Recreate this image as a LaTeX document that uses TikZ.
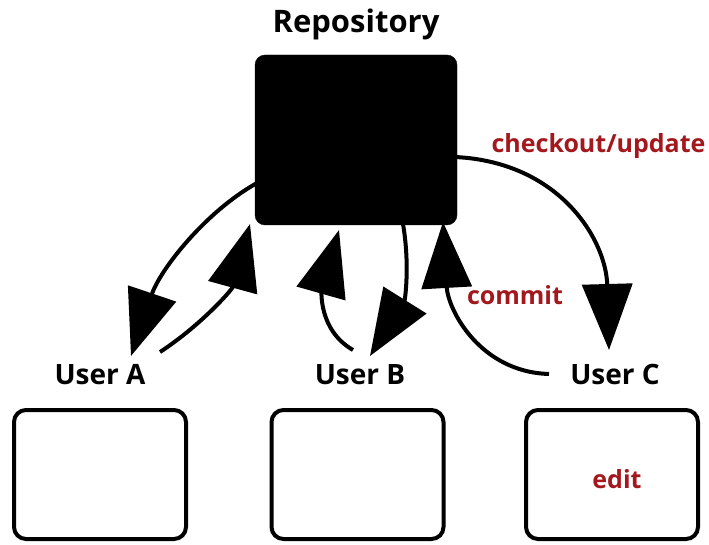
\documentclass[tikz,border=0pt]{standalone}
\usepackage{fontspec}
\setmainfont{Open Sans}
\usetikzlibrary{arrows.meta}
\definecolor{lblred}{HTML}{A3181D}
\tikzset{
  repobox/.style={fill=black, draw=black, rounded corners=10pt, minimum width=202pt, minimum height=170pt, inner sep=0pt},
  userbox/.style={draw=black, line width=4pt, rounded corners=12pt, minimum width=172pt, minimum height=129pt, inner sep=0pt},
  title/.style={font=\bfseries\fontsize{31}{36}\selectfont, inner sep=0pt, anchor=base},
  ulabel/.style={font=\bfseries\fontsize{28}{34}\selectfont, inner sep=0pt, anchor=base},
  redlabel/.style={font=\bfseries\fontsize{25}{30}\selectfont, text=lblred, inner sep=0pt, anchor=base},
  flow/.style={line width=4pt, -{Triangle[length=66pt,width=50pt]}},
}
\begin{document}
\begin{tikzpicture}[x=1pt,y=-1pt]
\useasboundingbox (0,0) rectangle (709,545);
\node[title] (reptitle) at (356,33) {Repository};
\node[repobox] (repo) at (356,140) {};
\node[ulabel] (ua) at (100,384) {User A};
\node[ulabel] (ub) at (360,384) {User B};
\node[ulabel] (uc) at (615,384) {User C};
\node[userbox] (boxa) at (100,474.5) {};
\node[userbox] (boxb) at (357.5,474.5) {};
\node[userbox] (boxc) at (612,474.5) {};
\node[redlabel] (edit) at (617,488) {edit};
\node[redlabel] (chk) at (598.5,153) {checkout/update};
\node[redlabel] (cmt) at (515,305) {commit};
% connector ends
\coordinate (r1) at (257,183);
\coordinate (a1) at (131,356);
\coordinate (a2) at (160,352);
\coordinate (r2) at (250,224);
\coordinate (b3) at (353,350);
\coordinate (r3) at (339,230);
\coordinate (r4) at (403,224);
\coordinate (b4) at (370,356);
\coordinate (c5) at (549,374);
\coordinate (r5) at (443,222);
\coordinate (r6) at (455,157);
\coordinate (c6) at (609,350);
\draw[flow] (r1) .. controls (205,212) and (160,270) .. (a1);
\draw[flow] (a2) .. controls (200,326) and (232,290) .. (r2);
\draw[flow] (b3) .. controls (318,330) and (322,290) .. (r3);
\draw[flow] (r4) .. controls (410,265) and (405,300) .. (b4);
\draw[flow] (c5) .. controls (480,372) and (448,310) .. (r5);
\draw[flow] (r6) .. controls (560,162) and (606,240) .. (c6);
\end{tikzpicture}
\end{document}
